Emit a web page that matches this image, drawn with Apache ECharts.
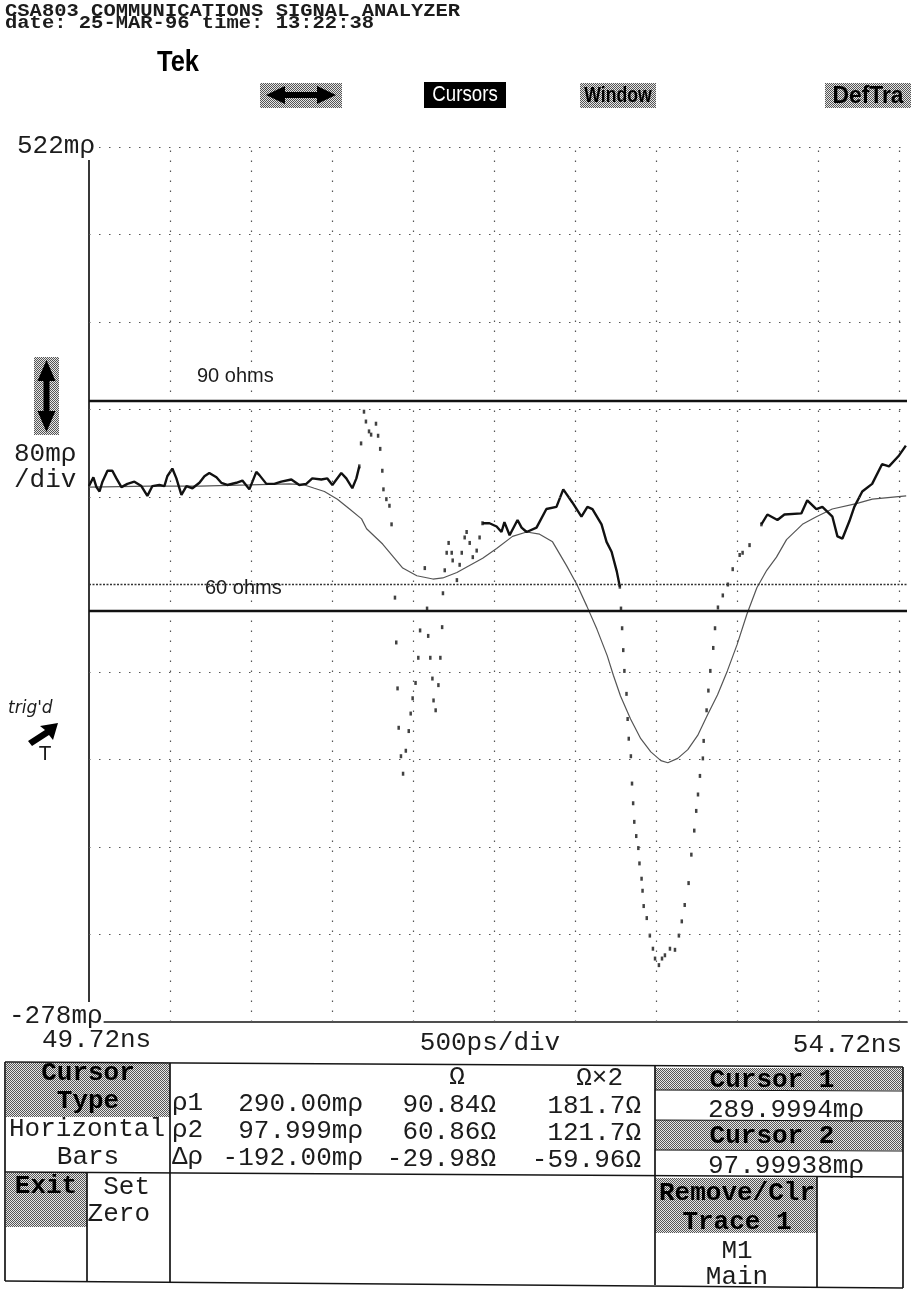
<!DOCTYPE html>
<html><head><meta charset="utf-8">
<script src="https://cdn.jsdelivr.net/npm/echarts@6/dist/echarts.min.js"></script>
<style>html,body{margin:0;padding:0;background:#fff}#c{width:915px;height:1294px}</style>
</head><body><div id="c"></div>
<script>
// ---------------- data ----------------
const xStartNs = 49.72, xEndNs = 54.72, xViewEndNs = 54.765, xDivNs = 0.5;
const yTopMp = 522, yBottomMp = -278, yDivMp = 80;
const refLevelMp = 122;
const cursor1Mp = 290.00, cursor2Mp = 97.999;
const timeLabels = ['49.72ns', '500ps/div', '54.72ns'];
const levelLabels = ['522mρ', '80mρ', '/div', '-278mρ'];

// acquired trace (noisy) : time in ns, reflection in mρ
const traceNs = [49.720,49.747,49.766,49.785,49.803,49.834,49.864,49.889,49.920,49.957,50.000,50.043,50.080,50.111,50.154,50.185,50.203,50.234,50.259,50.290,50.321,50.358,50.401,50.432,50.462,50.506,50.536,50.573,50.629,50.666,50.709,50.752,50.771,50.814,50.863,50.906,50.968,51.017,51.060,51.097,51.153,51.190,51.221,51.276,51.307,51.344,51.369,51.387,
 51.398,51.416,51.428,51.447,51.460,51.490,51.503,51.516,51.529,51.536,51.554,51.573,51.586,51.607,51.615,51.623,51.630,51.644,51.657,51.674,51.692,51.704,51.716,51.734,51.751,51.762,51.791,51.805,51.812,51.825,51.838,51.845,51.858,51.875,51.887,51.898,51.903,51.914,51.926,
 51.938,51.957,51.963,51.989,52.006,52.019,52.037,52.049,52.068,52.087,52.111,52.129,52.147,
 52.190,52.234,52.264,52.282,52.314,52.363,52.388,52.419,52.480,52.541,52.603,52.645,52.701,52.757,52.794,52.825,52.881,52.912,52.943,52.975,52.994,
 53.001,53.008,53.015,53.022,53.035,53.042,53.049,53.062,53.069,53.076,53.083,53.095,53.108,53.115,53.128,53.134,53.141,53.160,53.179,53.198,53.211,53.235,53.254,53.272,53.303,53.334,53.358,53.376,53.394,53.418,53.435,53.453,53.465,53.476,53.488,53.506,53.511,53.529,53.540,53.552,53.570,53.581,53.599,53.629,53.660,53.690,53.733,53.751,53.794,53.867,
 53.904,53.966,54.009,54.113,54.150,54.206,54.243,54.305,54.336,54.367,54.410,54.440,54.489,54.550,54.611,54.654,54.716,54.758];
const traceMp = [212,220,211,207,216,226,226,219,211,214,216,212,203,212,213,212,221,228,219,204,212,210,215,221,224,220,215,213,215,217,209,225,222,214,214,216,218,213,214,219,218,219,213,224,219,210,219,230,
 251,280,271,262,259,269,258,246,226,209,200,194,177,110,69,27,-9,-35,-51,-30,-12,4,18,32,55,80,137,100,75,55,36,16,7,30,55,83,114,135,151,
 160,151,144,126,140,151,165,170,160,147,153,165,178,
 178,175,170,179,167,181,174,170,174,191,193,209,197,184,193,191,177,161,152,134,120,
 100,82,62,43,22,-1,-19,-35,-60,-78,-95,-108,-119,-133,-147,-158,-172,-183,-199,-211,-220,-226,-220,-217,-211,-212,-199,-186,-171,-151,-125,-103,-85,-70,-53,-37,-21,7,25,43,64,82,101,112,122,136,149,151,158,177,
 186,181,186,187,199,191,193,184,166,164,180,193,207,214,232,230,240,249];
// time spans where the sampled trace shows as separate dots (fast edges)
const dottedSpansNs = [[51.387, 52.147], [52.994, 53.867]];

// averaged / smooth trace
const smoothNs = [49.720,50.093,50.401,50.709,50.956,51.049,51.110,51.172,51.252,51.327,51.401,51.432,51.531,51.593,51.655,51.742,51.841,51.902,51.989,52.050,52.148,52.234,52.332,52.419,52.499,52.579,52.666,52.729,52.791,52.853,52.916,52.954,52.998,53.060,53.123,53.185,53.247,53.290,53.351,53.413,53.474,53.535,53.596,53.657,53.717,53.778,53.839,53.900,53.960,54.022,54.120,54.206,54.304,54.452,54.551,54.760];
const smoothMp = [211,212,212,213,214,213,210,207,200,191,182,173,159,148,137,130,127,128,133,138,146,155,166,170,168,161,139,122,102,81,57,39,20,-1,-19,-31,-39,-41,-37,-29,-16,3,21,43,67,95,119,135,147,163,177,184,191,196,200,203];

// ---------------- build ----------------
const inSpan = (t, strict) => dottedSpansNs.some(([a, b]) => strict ? (t > a + 1e-9 && t < b - 1e-9) : (t >= a - 1e-9 && t <= b + 1e-9));
const lineData = traceNs.map((t, i) => inSpan(t, true) ? [t, '-'] : [t, traceMp[i]]);
const dotData = traceNs.map((t, i) => [t, traceMp[i]]).filter(p => inSpan(p[0], false));
const smoothData = smoothNs.map((t, i) => [t, smoothMp[i]]);

const gridDot = {color: '#555', width: 1.2, type: [1.5, 8.5]};
const vGrid = [];
for (let k = 1; k <= Math.round((xEndNs - xStartNs) / xDivNs); k++) vGrid.push({xAxis: +(xStartNs + k * xDivNs).toFixed(3), lineStyle: gridDot});
const hGrid = [];
for (let k = 1; k <= Math.round((yTopMp - yBottomMp) / yDivMp); k++) {
  const v = yBottomMp + k * yDivMp;
  hGrid.push({yAxis: v, lineStyle: v === refLevelMp ? {color: '#333', width: 1.3, type: [2, 1.5]} : gridDot});
}

function dither() {
  const c = document.createElement('canvas'); c.width = 2; c.height = 2;
  const g = c.getContext('2d');
  g.fillStyle = '#e6e6e6'; g.fillRect(0, 0, 2, 2);
  g.fillStyle = '#555'; g.fillRect(0, 0, 1, 1); g.fillRect(1, 1, 1, 1);
  return {image: c, repeat: 'repeat'};
}
const DITH = dither();
const SC = '26px "Liberation Mono"', SCB = 'bold 26px "Liberation Mono"';
function T(x, y, text, o) {
  o = o || {};
  const st = {text, font: o.font || SC, fill: o.fill || '#1c1c1c',
    align: o.align || 'left', verticalAlign: 'middle', textAlign: o.align || 'left', textVerticalAlign: 'middle'};
  if (o.bg) { st.backgroundColor = o.bg; st.padding = [1, 1]; }
  return {type: 'text', x, y, scaleX: o.sx || 1, scaleY: o.sy || 1, z: o.z || 60, silent: true, style: st};
}
const R = (x, y, w, h, fill, z) => ({type: 'rect', shape: {x, y, width: w, height: h}, style: {fill}, z: z || 50, silent: true});
const L = (x1, y1, x2, y2, w) => ({type: 'line', shape: {x1, y1, x2, y2}, style: {stroke: '#151515', lineWidth: w || 1.7}, z: 55, silent: true});
const P = (pts, fill) => ({type: 'polygon', shape: {points: pts}, style: {fill: fill || '#000'}, z: 58, silent: true});

const HDR = 'bold 20.5px "Liberation Mono"';
const elements = [
  T(5, 11, 'CSA803 COMMUNICATIONS SIGNAL ANALYZER', {font: HDR, sy: 0.88}),
  T(5, 23, 'date: 25-MAR-96 time: 13:22:38', {font: HDR, sy: 0.88}),
  T(157, 63, 'Tek', {font: 'bold 30px "Liberation Sans"', sx: 0.85, fill: '#000'}),
  // menu
  R(260, 83, 82, 25, DITH),
  P([[266,95],[285,86],[285,92],[317,92],[317,86],[336,95],[317,104],[317,98],[285,98],[285,104]]),
  R(424, 82, 82, 26, '#000'),
  T(465, 95, 'Cursors', {font: '22px "Liberation Sans"', sx: 0.85, fill: '#fff', align: 'center'}),
  R(580, 83, 76, 25, DITH),
  T(618, 96, 'Window', {font: 'bold 22px "Liberation Sans"', sx: 0.8, fill: '#000', align: 'center'}),
  R(825, 83, 86, 25, DITH),
  T(868, 96, 'DefTra', {font: 'bold 24px "Liberation Sans"', sx: 0.95, fill: '#000', align: 'center'}),
  // left side labels
  T(16, 146, levelLabels[0], {bg: '#fff'}),
  R(34, 357, 25, 78, DITH),
  P([[46.5,360],[55.5,381],[49.5,381],[49.5,411],[55.5,411],[46.5,432],[37.5,411],[43.5,411],[43.5,381],[37.5,381]]),
  T(14, 454, levelLabels[1]),
  T(14, 480, levelLabels[2]),
  T(8, 709, "trig'd", {font: 'italic 17px "DejaVu Sans"'}),
  P([[58,723],[53,740],[49,735],[32,746],[28,741],[45,730],[40,726]]),
  T(45, 755, 'T', {font: '19px "DejaVu Sans"', align: 'center'}),
  T(8, 1016, levelLabels[3], {bg: '#fff'}),
  // plot annotations
  T(197, 376, '90 ohms', {font: '20px "Liberation Sans"'}),
  T(205, 588, '60 ohms', {font: '20px "Liberation Sans"'}),
  // time labels
  T(42, 1040, timeLabels[0]),
  T(490, 1043, timeLabels[1], {align: 'center'}),
  T(902, 1045, timeLabels[2], {align: 'right'}),
  // table shading
  R(6, 1063, 164, 54, DITH),
  R(6, 1173, 81, 54, DITH),
  R(655, 1068, 248, 22, DITH),
  R(655, 1120, 248, 30, DITH),
  R(655, 1178, 162, 55, DITH),
  // table lines
  L(5, 1062, 903, 1067), L(5, 1172, 903, 1177), L(5, 1281, 903, 1288),
  L(5, 1062, 5, 1281), L(903, 1067, 903, 1288),
  L(170, 1063, 170, 1283), L(655, 1066, 655, 1285),
  L(87, 1172, 87, 1282), L(817, 1176, 817, 1287),
  L(655, 1090, 903, 1091, 1.1), L(655, 1120, 903, 1121, 1.1), L(655, 1150, 903, 1151, 1.1),
  // table text
  T(88, 1073, 'Cursor', {font: SCB, align: 'center', fill: '#000'}),
  T(88, 1101, 'Type', {font: SCB, align: 'center', fill: '#000'}),
  T(87, 1129, 'Horizontal', {align: 'center'}),
  T(88, 1157, 'Bars', {align: 'center'}),
  T(46, 1186, 'Exit', {font: SCB, align: 'center', fill: '#000'}),
  T(150, 1187, 'Set', {align: 'right'}),
  T(150, 1214, 'Zero', {align: 'right'}),
  T(172, 1103, 'ρ1'), T(172, 1130, 'ρ2'), T(172, 1157, 'Δρ'),
  T(363, 1104, '290.00mρ', {align: 'right'}),
  T(363, 1131, '97.999mρ', {align: 'right'}),
  T(363, 1158, '-192.00mρ', {align: 'right'}),
  T(457, 1077, 'Ω', {align: 'center'}),
  T(496, 1105, '90.84Ω', {align: 'right'}),
  T(496, 1132, '60.86Ω', {align: 'right'}),
  T(496, 1159, '-29.98Ω', {align: 'right'}),
  T(623, 1078, 'Ω×2', {align: 'right'}),
  T(641, 1106, '181.7Ω', {align: 'right'}),
  T(641, 1133, '121.7Ω', {align: 'right'}),
  T(641, 1160, '-59.96Ω', {align: 'right'}),
  T(772, 1080, 'Cursor 1', {font: SCB, align: 'center', fill: '#000'}),
  T(786, 1110, '289.9994mρ', {align: 'center'}),
  T(772, 1136, 'Cursor 2', {font: SCB, align: 'center', fill: '#000'}),
  T(786, 1166, '97.99938mρ', {align: 'center'}),
  T(737, 1193, 'Remove/Clr', {font: SCB, align: 'center', fill: '#000'}),
  T(737, 1222, 'Trace 1', {font: SCB, align: 'center', fill: '#000'}),
  T(737, 1251, 'M1', {align: 'center'}),
  T(737, 1277, 'Main', {align: 'center'})
];

const chart = echarts.init(document.getElementById('c'), null, {renderer: 'canvas'});
chart.setOption({
  animation: false,
  backgroundColor: '#fff',
  grid: {left: 89, right: 8, top: 147, bottom: 272, containLabel: false},
  xAxis: {type: 'value', min: xStartNs, max: xViewEndNs,
    axisLine: {show: true, onZero: false, lineStyle: {color: '#151515', width: 1.7}},
    axisTick: {show: false}, axisLabel: {show: false}, splitLine: {show: false}},
  yAxis: {type: 'value', min: yBottomMp, max: yTopMp,
    axisLine: {show: true, onZero: false, lineStyle: {color: '#151515', width: 1.7}},
    axisTick: {show: false}, axisLabel: {show: false}, splitLine: {show: false}},
  graphic: {elements},
  series: [
    {name: 'average', type: 'line', data: smoothData, showSymbol: false, z: 2,
      lineStyle: {color: '#555', width: 1.2},
      markLine: {silent: true, symbol: ['none', 'none'], label: {show: false}, animation: false,
        data: vGrid.concat(hGrid)}},
    {name: 'M1', type: 'line', data: lineData, showSymbol: false, z: 4, connectNulls: false,
      lineStyle: {color: '#111', width: 2.4},
      markLine: {silent: true, symbol: ['none', 'none'], label: {show: false}, animation: false,
        data: [{yAxis: cursor1Mp, lineStyle: {color: '#111', width: 2.3, type: 'solid'}},
               {yAxis: cursor2Mp, lineStyle: {color: '#111', width: 2.3, type: 'solid'}}]}},
    {name: 'M1 samples', type: 'scatter', data: dotData, symbol: 'rect', symbolSize: [2.5, 4], z: 4,
      itemStyle: {color: '#111'}}
  ]
});
</script></body></html>
